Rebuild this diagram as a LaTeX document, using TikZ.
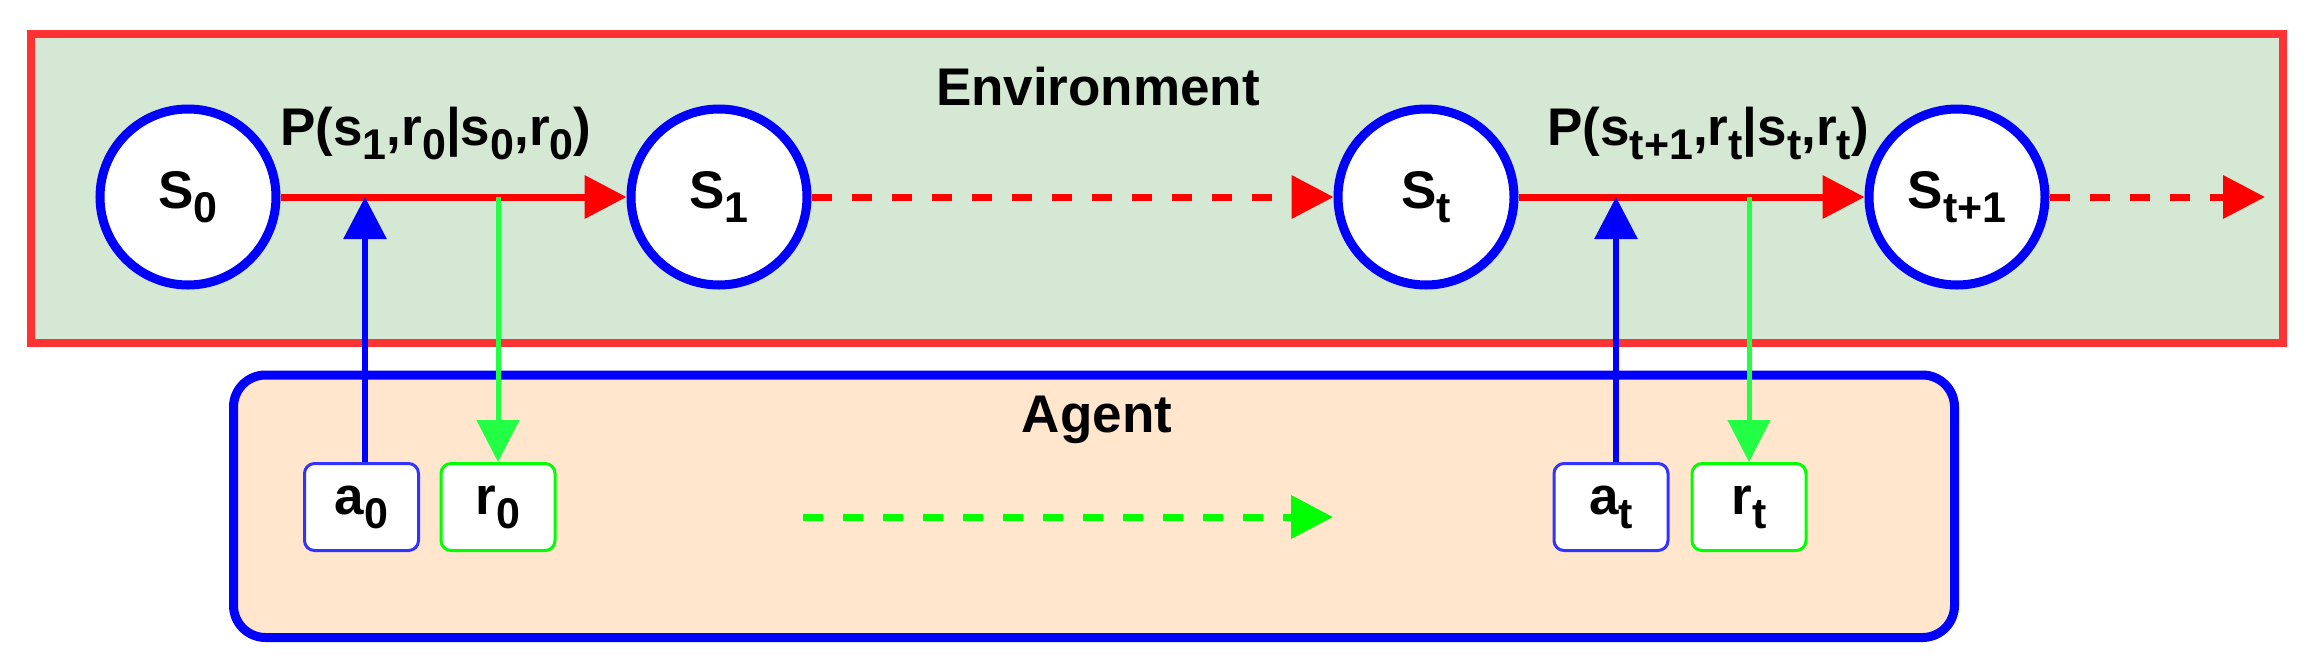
\documentclass[tikz,border=0pt]{standalone}
\usepackage{fontspec}
\setmainfont{Liberation Sans}
\usetikzlibrary{arrows.meta,calc}
\definecolor{envfill}{HTML}{D5E8D4}
\definecolor{envline}{HTML}{FF3333}
\definecolor{agfill}{HTML}{FFE6CC}
\definecolor{blueline}{HTML}{0000FF}
\definecolor{abox}{HTML}{3333FF}
\definecolor{rbox}{HTML}{00FF00}
\definecolor{redarrow}{HTML}{FF0000}
\definecolor{greenarrow}{HTML}{22FF44}
\definecolor{greendash}{HTML}{00FF00}
\newcommand{\sbs}[1]{\raisebox{-7pt}{\fontsize{21.5pt}{21.5pt}\selectfont #1}}
\tikzset{
  envbox/.style={draw=envline, fill=envfill, line width=4pt, inner sep=0pt},
  agbox/.style={draw=blueline, fill=agfill, line width=4.5pt, rounded corners=16pt, inner sep=0pt},
  statenode/.style={circle, draw=blueline, fill=white, line width=4.5pt, minimum size=88pt, inner sep=0pt},
  actbox/.style={draw=abox, fill=white, line width=1.5pt, rounded corners=5pt, minimum width=57pt, minimum height=43.5pt, inner sep=0pt},
  rewbox/.style={draw=rbox, fill=white, line width=1.5pt, rounded corners=5pt, minimum width=57pt, minimum height=43.5pt, inner sep=0pt},
  tip/.style={-{Triangle[length=21pt,width=21pt]}},
  trans/.style={tip, draw=redarrow, line width=3.5pt},
  transdash/.style={trans, dash pattern=on 10pt off 10pt},
  actarrow/.style={tip, draw=blueline, line width=3pt},
  rewarrow/.style={tip, draw=greenarrow, line width=2.5pt},
  timedash/.style={tip, draw=greendash, line width=3.5pt, dash pattern=on 10pt off 10pt},
  lbl/.style={inner sep=0pt, anchor=base},
  plbl/.style={inner sep=0pt, anchor=base west}
}
\begin{document}
\begin{tikzpicture}[x=0.5pt,y=-0.5pt,font=\fontsize{26.5pt}{30pt}\selectfont\bfseries]
\useasboundingbox (0,0) rectangle (2320,670);
% containers
\node[envbox, minimum width=1126pt, minimum height=154.5pt] (env) at (1157,188.5) {};
\node[agbox, minimum width=860.5pt, minimum height=131.25pt] (agent) at (1094,506.25) {};
\node[lbl] (envlbl) at (1098,105) {Environment};
\node[lbl] (aglbl) at (1097,432) {Agent};
% states
\node[statenode] (S0) at (188,197) {S\sbs{0}};
\node[statenode] (S1) at (719,197) {S\sbs{1}};
\node[statenode] (St) at (1426,197) {S\sbs{t}};
\node[statenode] (St1) at (1957,197) {S\sbs{t+1}};
% transition labels
\node[plbl] (p0) at (280,145) {P(s\sbs{1},r\sbs{0}|s\sbs{0},r\sbs{0})};
\node[plbl] (pt) at (1547,145) {P(s\sbs{t+1},r\sbs{t}|s\sbs{t},r\sbs{t})};
% agent boxes
\node[actbox] (a0) at (361.5,507) {a\sbs{0}};
\node[rewbox] (r0) at (498,507) {r\sbs{0}};
\node[actbox] (at) at (1611,507) {a\sbs{t}};
\node[rewbox] (rt) at (1749,507) {r\sbs{t}};
% coordinates on the transitions
\coordinate (u0) at (365,197);
\coordinate (d0) at (r0.north |- S0.center);
\coordinate (ut) at (1616,197);
\coordinate (dt) at (rt.north |- St.center);
\coordinate (fin) at (2265,197);
\coordinate (g1) at (803,517);
\coordinate (g2) at (1333,517);
% transitions
\draw[trans] (S0.east) -- (S1.west);
\draw[transdash] (S1.east) -- (St.west);
\draw[trans] (St.east) -- (St1.west);
\draw[transdash] (St1.east) -- (fin);
% actions and rewards
\draw[actarrow] (a0.north -| u0) -- (u0);
\draw[rewarrow] (d0) -- (r0.north);
\draw[actarrow] (at.north -| ut) -- (ut);
\draw[rewarrow] (dt) -- (rt.north);
\draw[timedash] (g1) -- (g2);
\end{tikzpicture}
\end{document}
